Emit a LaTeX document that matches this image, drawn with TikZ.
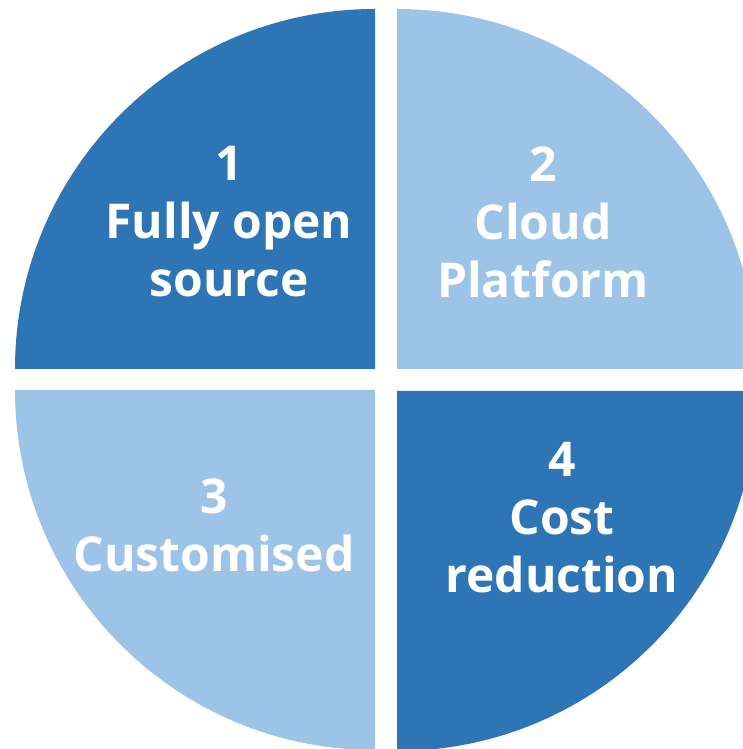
\documentclass[tikz,border=0pt]{standalone}
\usepackage{fontspec}
\setmainfont{Open Sans}
\usepackage{tikz}

\definecolor{darkblue}{RGB}{46,117,182}
\definecolor{lightblue}{RGB}{157,195,230}

\begin{document}
\begin{tikzpicture}[x=1pt, y=1pt,
  lbl/.style={text=white, align=center, anchor=base,
    font=\fontsize{48}{58}\selectfont\bfseries}]
  \useasboundingbox (0,0) rectangle (743,749);
  \clip (0,0) rectangle (743,749);
  \fill[darkblue] (375,380) -- (375,740) arc (90:180:360) -- cycle;
  \fill[lightblue] (397,380) -- (757,380) arc (0:90:360) -- cycle;
  \fill[lightblue] (375,359) -- (15,359) arc (180:270:360) -- cycle;
  \fill[darkblue] (397,358) -- (397,-2) arc (270:360:360) -- cycle;
  \node[lbl] (open) at (229,452) {1\\Fully open\\source};
  \node[lbl] (cloud) at (543,451) {2\\Cloud\\Platform};
  \node[lbl] (custom) at (214,177) {3\\Customised};
  \node[lbl] (cost) at (562,156) {4\\Cost\\reduction};
\end{tikzpicture}
\end{document}
